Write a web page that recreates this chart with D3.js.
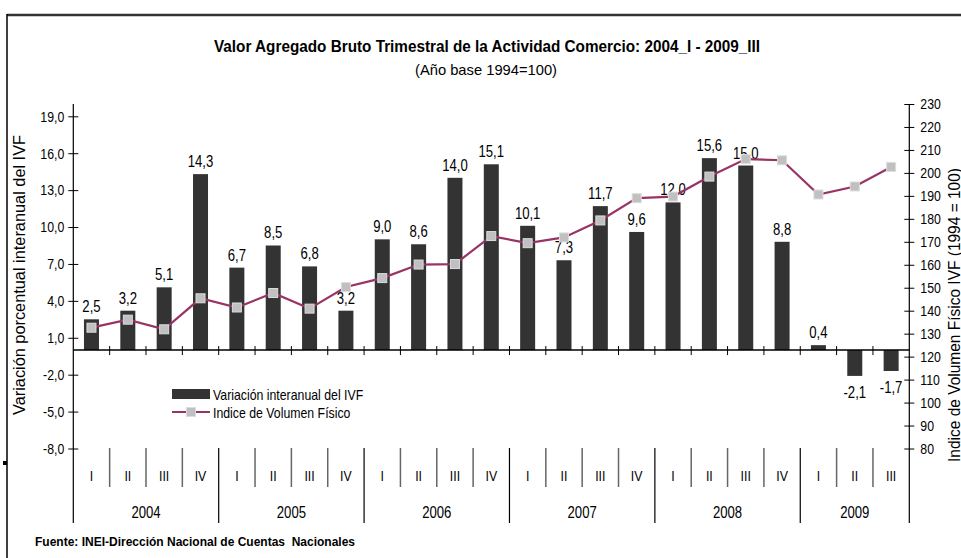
<!DOCTYPE html>
<html>
<head>
<meta charset="utf-8">
<script src="https://cdn.jsdelivr.net/npm/d3@7"></script>
<style>
  body { margin: 0; background: #fff; }
  svg { display: block; font-family: "Liberation Sans", Arial, sans-serif; }
</style>
</head>
<body>
<div id="chart"></div>
<script>
// periodos trimestrales 2004_I - 2009_III
const years = ["2004", "2005", "2006", "2007", "2008", "2009"];
const quarters = ["I", "II", "III", "IV"];
const periods = [
  "2004-I", "2004-II", "2004-III", "2004-IV",
  "2005-I", "2005-II", "2005-III", "2005-IV",
  "2006-I", "2006-II", "2006-III", "2006-IV",
  "2007-I", "2007-II", "2007-III", "2007-IV",
  "2008-I", "2008-II", "2008-III", "2008-IV",
  "2009-I", "2009-II", "2009-III"
];

// variacion interanual del IVF (%)
const variacion = [2.5, 3.2, 5.1, 14.3, 6.7, 8.5, 6.8, 3.2, 9.0, 8.6, 14.0, 15.1,
  10.1, 7.3, 11.7, 9.6, 12.0, 15.6, 15.0, 8.8, 0.4, -2.1, -1.7];

// indice de volumen fisico (1994=100)
const ivf = [132.6, 136.1, 131.9, 145.4, 141.4, 147.7, 140.9, 150.3, 154.2, 160.1, 160.3, 172.5,
  169.4, 171.9, 179.3, 189.0, 189.7, 198.4, 206.0, 205.5, 190.6, 194.1, 202.6];

const leftTicks = [19, 16, 13, 10, 7, 4, 1, -2, -5, -8];
const rightTicks = [230, 220, 210, 200, 190, 180, 170, 160, 150, 140, 130, 120, 110, 100, 90, 80];

const width = 961;
const height = 558;
const plotLeft = 73.3;
const plotRight = 909.3;
const plotTop = 104;
const plotBottom = 448.5;
const boxBottom = 523;

const BAR = "#333333";
const LINE = "#993366";

// no hay Arial Narrow: se comprime el texto horizontalmente
function narrow(sel, factor = 0.82) {
  sel.each(function () {
    const len = this.getComputedTextLength();
    this.setAttribute("textLength", len * factor);
    this.setAttribute("lengthAdjust", "spacingAndGlyphs");
  });
}

const svg = d3.select("#chart").append("svg")
  .attr("width", width)
  .attr("height", height);

const x = d3.scaleBand().domain(periods).range([plotLeft, plotRight]);
const yL = d3.scaleLinear().domain([-8, 20]).range([plotBottom, plotTop]);
const yR = d3.scaleLinear().domain([80, 230]).range([plotBottom, plotTop]);
const bw = x.bandwidth();
const comma = d => d.toFixed(1).replace(".", ",");

// marco
svg.append("line").attr("x1", 7).attr("x2", width).attr("y1", 15).attr("y2", 15)
  .attr("stroke", "#333").attr("stroke-width", 2.5);
svg.append("line").attr("x1", 7).attr("x2", 7).attr("y1", 14).attr("y2", height)
  .attr("stroke", "#000").attr("stroke-width", 1.5);
svg.append("rect").attr("x", 3).attr("y", 461).attr("width", 4).attr("height", 4).attr("fill", "#000");

// titulos
svg.append("text")
  .attr("x", 487).attr("y", 52)
  .attr("text-anchor", "middle")
  .attr("textLength", 546).attr("lengthAdjust", "spacingAndGlyphs")
  .style("font-size", "16px").style("font-weight", "bold")
  .text("Valor Agregado Bruto Trimestral de la Actividad Comercio: 2004_I - 2009_III");
svg.append("text")
  .attr("x", 486).attr("y", 75)
  .attr("text-anchor", "middle")
  .attr("textLength", 142).attr("lengthAdjust", "spacingAndGlyphs")
  .style("font-size", "15px")
  .text("(Año base 1994=100)");

// eje izquierdo
const leftAxis = svg.append("g")
  .attr("transform", `translate(${plotLeft},0)`)
  .call(d3.axisLeft(yL).tickValues(leftTicks).tickFormat(comma).tickSize(5).tickSizeOuter(0).tickPadding(4));
leftAxis.select(".domain").remove();
leftAxis.selectAll(".tick line").attr("x1", 5);
leftAxis.selectAll("text").style("font-size", "15px").attr("fill", "#000").call(narrow);

// eje derecho
const rightAxis = svg.append("g")
  .attr("transform", `translate(${plotRight},0)`)
  .call(d3.axisRight(yR).tickValues(rightTicks).tickSize(5).tickSizeOuter(0).tickPadding(6));
rightAxis.select(".domain").remove();
rightAxis.selectAll(".tick line").attr("x1", -5);
rightAxis.selectAll("text").style("font-size", "15px").attr("fill", "#000").call(narrow);

svg.append("line").attr("x1", plotLeft).attr("x2", plotLeft).attr("y1", plotTop).attr("y2", boxBottom)
  .attr("stroke", "#000").attr("stroke-width", 1.2);
svg.append("line").attr("x1", plotRight).attr("x2", plotRight).attr("y1", plotTop).attr("y2", boxBottom)
  .attr("stroke", "#000").attr("stroke-width", 1.2);

// titulos de ejes (el derecho queda recortado en el borde, como en el original)
svg.append("text")
  .attr("transform", `translate(25,275) rotate(-90)`)
  .attr("text-anchor", "middle")
  .attr("textLength", 280).attr("lengthAdjust", "spacingAndGlyphs")
  .style("font-size", "16px")
  .text("Variación porcentual interanual del IVF");
svg.append("text")
  .attr("transform", `translate(960,315) rotate(-90)`)
  .attr("text-anchor", "middle")
  .attr("textLength", 294).attr("lengthAdjust", "spacingAndGlyphs")
  .style("font-size", "16px")
  .text("Indice de Volumen Físico IVF (1994 = 100)");

// barras
svg.append("g").selectAll("rect")
  .data(periods)
  .join("rect")
  .attr("x", d => x(d) + bw / 2 - 7.5)
  .attr("width", 15)
  .attr("y", (d, i) => Math.min(yL(variacion[i]), yL(0)))
  .attr("height", (d, i) => Math.abs(yL(variacion[i]) - yL(0)))
  .attr("fill", BAR);

// linea base con marcas
svg.append("line").attr("x1", plotLeft).attr("x2", plotRight).attr("y1", yL(0)).attr("y2", yL(0))
  .attr("stroke", "#000").attr("stroke-width", 1.5);
svg.append("g").selectAll("line")
  .data(periods.slice(1))
  .join("line")
  .attr("x1", d => x(d)).attr("x2", d => x(d))
  .attr("y1", yL(0) - 4).attr("y2", yL(0) + 5)
  .attr("stroke", "#000").attr("stroke-width", 1);

// etiquetas de barras
svg.append("g").selectAll("text")
  .data(periods)
  .join("text")
  .attr("x", d => x(d) + bw / 2)
  .attr("y", (d, i) => variacion[i] >= 0 ? yL(variacion[i]) - 7 : yL(variacion[i]) + 22)
  .attr("text-anchor", "middle")
  .style("font-size", "16px")
  .text((d, i) => comma(variacion[i]))
  .call(narrow);

// linea IVF
const line = d3.line()
  .x(d => x(d) + bw / 2)
  .y((d, i) => yR(ivf[i]));
svg.append("path")
  .datum(periods)
  .attr("d", line)
  .attr("fill", "none")
  .attr("stroke", LINE)
  .attr("stroke-width", 2.2);
svg.append("g").selectAll("rect")
  .data(periods)
  .join("rect")
  .attr("x", d => x(d) + bw / 2 - 4.5)
  .attr("y", (d, i) => yR(ivf[i]) - 4.5)
  .attr("width", 9).attr("height", 9)
  .attr("fill", "#c0c0c0")
  .attr("stroke", "#dcdcdc").attr("stroke-width", 1);

// leyenda
const legend = svg.append("g").attr("transform", "translate(172,389)");
legend.append("rect").attr("width", 38).attr("height", 10).attr("fill", BAR);
legend.append("text").attr("x", 41).attr("y", 10.5).style("font-size", "15px")
  .text("Variación interanual del IVF").call(narrow);
legend.append("line").attr("x1", 0).attr("x2", 38).attr("y1", 23).attr("y2", 23)
  .attr("stroke", LINE).attr("stroke-width", 2.2);
legend.append("rect").attr("x", 14.5).attr("y", 18.5).attr("width", 9).attr("height", 9)
  .attr("fill", "#c0c0c0").attr("stroke", "#dcdcdc");
legend.append("text").attr("x", 41).attr("y", 28.5).style("font-size", "15px")
  .text("Indice de Volumen Físico").call(narrow);

// eje de categorias: trimestres y anios
const cat = svg.append("g");
cat.selectAll(".sep")
  .data(periods.slice(1))
  .join("line")
  .attr("class", "sep")
  .attr("x1", d => x(d)).attr("x2", d => x(d))
  .attr("y1", 448)
  .attr("y2", d => d.endsWith("-I") ? boxBottom : 487)
  .attr("stroke", d => d.endsWith("-I") ? "#000" : "#666")
  .attr("stroke-width", d => d.endsWith("-I") ? 1.2 : 1.5);
cat.selectAll(".q")
  .data(periods)
  .join("text")
  .attr("class", "q")
  .attr("x", d => x(d) + bw / 2)
  .attr("y", 481)
  .attr("text-anchor", "middle")
  .style("font-size", "15px")
  .text(d => quarters[quarters.indexOf(d.split("-")[1])])
  .call(narrow);
cat.selectAll(".yr")
  .data(years)
  .join("text")
  .attr("class", "yr")
  .attr("x", yr => {
    const ps = periods.filter(p => p.startsWith(yr));
    return (x(ps[0]) + x(ps[ps.length - 1]) + bw) / 2;
  })
  .attr("y", 518)
  .attr("text-anchor", "middle")
  .style("font-size", "16px")
  .text(yr => yr)
  .call(narrow);

// fuente
svg.append("text")
  .attr("x", 35).attr("y", 546)
  .attr("textLength", 320).attr("lengthAdjust", "spacingAndGlyphs")
  .style("font-size", "13px").style("font-weight", "bold")
  .attr("xml:space", "preserve")
  .text("Fuente: INEI-Dirección Nacional de Cuentas  Nacionales");
</script>
</body>
</html>
